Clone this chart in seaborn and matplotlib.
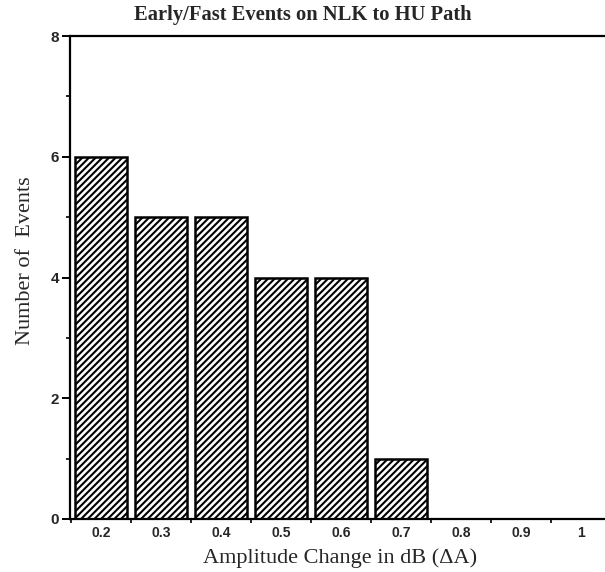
import matplotlib
matplotlib.use("Agg")
import matplotlib.pyplot as plt
from matplotlib.ticker import FixedLocator
import seaborn as sns

# Histogram of amplitude changes for early/fast events
amplitude_bins = ["0.2", "0.3", "0.4", "0.5", "0.6", "0.7", "0.8", "0.9", "1"]
event_counts = [6, 5, 5, 4, 4, 1, 0, 0, 0]
y_ticks = [0, 2, 4, 6, 8]

sns.set_theme(style="white")
plt.rcParams["hatch.linewidth"] = 1.5

fig = plt.figure(figsize=(6.05, 5.72), dpi=100)
ax = fig.add_axes([0.1157, 0.0927, 0.8843 + 0.01, 0.937 - 0.0927])

sns.barplot(x=amplitude_bins, y=event_counts, ax=ax, color="white",
            edgecolor="black", linewidth=1.8, hatch="/////", width=0.87,
            saturation=1)

ax.set_xlim(-0.517, 8.5)
ax.set_ylim(0, 8)

for side in ("left", "bottom", "top"):
    ax.spines[side].set_visible(True)
    ax.spines[side].set_color("black")
    ax.spines[side].set_linewidth(1.6)
ax.spines["right"].set_visible(False)

# y axis: labelled even counts, short marks at odd counts
ax.set_yticks(y_ticks)
ax.set_yticklabels([str(t) for t in y_ticks], fontfamily="Liberation Sans",
                   fontweight="bold", fontsize=11)
ax.yaxis.set_minor_locator(FixedLocator([1, 3, 5, 7]))
ax.tick_params(axis="y", which="major", direction="out", length=6, width=1.4,
               color="black", pad=2, left=True)
ax.tick_params(axis="y", which="minor", direction="out", length=3, width=1.2,
               color="black", left=True)

# x axis: labels at bar centres, marks at bin edges
ax.set_xticks(range(len(amplitude_bins)))
ax.set_xticklabels(amplitude_bins, fontfamily="Liberation Sans",
                   fontweight="bold", fontsize=10)
ax.xaxis.set_minor_locator(FixedLocator([i - 0.5 for i in range(len(amplitude_bins) + 1)]))
ax.tick_params(axis="x", which="major", length=0, pad=5, bottom=True)
ax.tick_params(axis="x", which="minor", direction="out", length=3, width=1.2,
               color="black", bottom=True)

ax.set_xlabel("Amplitude Change in dB (\u0394A)", fontfamily="Liberation Serif",
              fontsize=16, labelpad=6)
ax.set_ylabel("Number of  Events", fontfamily="Liberation Serif", fontsize=16)
ax.yaxis.set_label_coords(-0.064, 0.535)

fig.text(0.5, 0.974, "Early/Fast Events on NLK to HU Path", ha="center",
         va="center", fontfamily="Liberation Serif", fontweight="bold",
         fontsize=14.8)

fig.savefig("out.png", dpi=100, facecolor="white")
